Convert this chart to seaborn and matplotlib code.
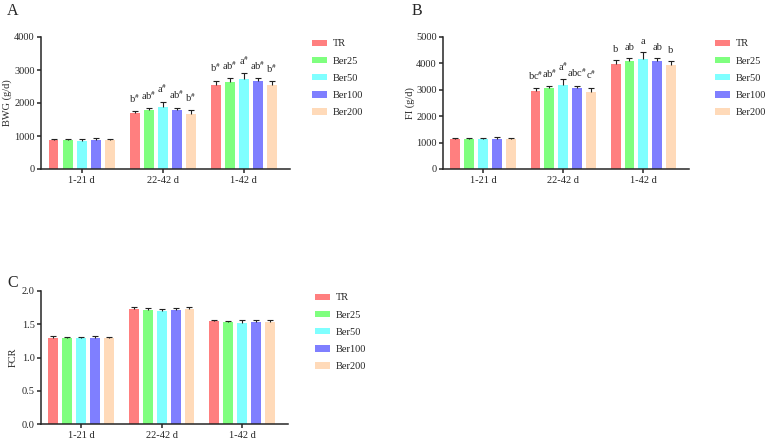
import numpy as np
import pandas as pd
import matplotlib.pyplot as plt
import seaborn as sns
from matplotlib.patches import Patch

# ---------------------------------------------------------------
# data
# ---------------------------------------------------------------
periods = ["1-21 d", "22-42 d", "1-42 d"]
groups = ["TR", "Ber25", "Ber50", "Ber100", "Ber200"]
colors = ["#FF7F7F", "#7FFF7F", "#7FFFFF", "#7F7FFF", "#FFDAB9"]

# rows = periods, columns = groups
bwg_mean = [[865, 865, 860, 875, 865],
            [1690, 1780, 1870, 1780, 1665],
            [2555, 2650, 2735, 2655, 2545]]
bwg_sd = [[50, 45, 40, 50, 45],
          [75, 60, 170, 80, 125],
          [120, 95, 170, 95, 120]]
bwg_letters = [["", "", "", "", ""],
               ["b$^{\\#}$", "ab$^{\\#}$", "a$^{\\#}$", "ab$^{\\#}$", "b$^{\\#}$"],
               ["b$^{\\#}$", "ab$^{\\#}$", "a$^{\\#}$", "ab$^{\\#}$", "b$^{\\#}$"]]

fi_mean = [[1140, 1140, 1130, 1150, 1140],
           [2950, 3085, 3200, 3060, 2910],
           [3985, 4100, 4165, 4090, 3950]]
fi_sd = [[40, 40, 40, 45, 30],
         [110, 60, 210, 100, 175],
         [150, 100, 260, 100, 130]]
fi_letters = [["", "", "", "", ""],
              ["bc$^{\\#}$", "ab$^{\\#}$", "a$^{\\#}$", "abc$^{\\#}$", "c$^{\\#}$"],
              ["b", "ab", "a", "ab", "b"]]

fcr_mean = [[1.29, 1.29, 1.29, 1.30, 1.29],
            [1.73, 1.72, 1.70, 1.71, 1.73],
            [1.55, 1.54, 1.515, 1.53, 1.54]]
fcr_sd = [[0.03, 0.02, 0.025, 0.025, 0.02],
          [0.025, 0.03, 0.035, 0.03, 0.025],
          [0.01, 0.015, 0.05, 0.035, 0.02]]

# ---------------------------------------------------------------
# style
# ---------------------------------------------------------------
sns.set_style("ticks")
plt.rcParams["font.family"] = ["Liberation Serif", "DejaVu Serif"]
plt.rcParams["mathtext.fontset"] = "stix"
plt.rcParams["axes.linewidth"] = 1.1
plt.rcParams["xtick.major.width"] = 1.1
plt.rcParams["ytick.major.width"] = 1.1
plt.rcParams["xtick.major.size"] = 3
plt.rcParams["ytick.major.size"] = 3


def long_df(mean):
    rows = []
    for i, p in enumerate(periods):
        for j, g in enumerate(groups):
            rows.append({"period": p, "group": g, "value": mean[i][j]})
    return pd.DataFrame(rows)


def draw_panel(ax, mean, sd, letters, ylabel, yticks, fmt, label_x):
    df = long_df(mean)
    sns.barplot(data=df, x="period", y="value", hue="group",
                order=periods, hue_order=groups, palette=colors,
                saturation=1, width=0.864, gap=0.29, errorbar=None,
                linewidth=0, legend=False, ax=ax)
    # upper-only error bars + significance letters
    bar_conts = list(ax.containers)
    for j, cont in enumerate(bar_conts):
        for i, bar in enumerate(cont):
            x = bar.get_x() + bar.get_width() / 2
            top = bar.get_height()
            eb = ax.errorbar(x, top, yerr=[[0], [sd[i][j]]], fmt="none",
                             ecolor="#222222", elinewidth=0.8, capsize=2.2,
                             capthick=0.8, zorder=3)
            eb[1][0].set_visible(False)  # hide the lower cap
            if letters is not None and letters[i][j]:
                ax.annotate(letters[i][j], (x, top + sd[i][j]),
                            xytext=(0, 4.5), textcoords="offset points",
                            ha="center", va="bottom", fontsize=7.5)
    ax.set_xlim(-0.5, 2.57)
    ax.set_ylim(yticks[0], yticks[-1])
    ax.set_yticks(yticks)
    ax.set_yticklabels([fmt.format(t) for t in yticks], fontsize=7.5)
    ax.tick_params(axis="x", labelsize=7.5, pad=2)
    ax.tick_params(axis="y", pad=1.5)
    ax.set_xlabel("")
    ax.set_ylabel(ylabel, fontsize=7.5)
    ax.yaxis.set_label_coords(label_x, 0.5)
    sns.despine(ax=ax)


fig = plt.figure(figsize=(7.67, 4.43), dpi=100)

axA = fig.add_axes([41 / 767, 1 - 169 / 443, 249 / 767, 132 / 443])
draw_panel(axA, bwg_mean, bwg_sd, bwg_letters, "BWG (g/d)",
           [0, 1000, 2000, 3000, 4000], "{:.0f}", -0.115)

axB = fig.add_axes([443 / 767, 1 - 169 / 443, 246 / 767, 132 / 443])
draw_panel(axB, fi_mean, fi_sd, fi_letters, "FI (g/d)",
           [0, 1000, 2000, 3000, 4000, 5000], "{:.0f}", -0.115)

axC = fig.add_axes([41 / 767, 1 - 424 / 443, 247 / 767, 133 / 443])
draw_panel(axC, fcr_mean, fcr_sd, None, "FCR",
           [0.0, 0.5, 1.0, 1.5, 2.0], "{:.1f}", -0.095)

# legends
handles = [Patch(facecolor=c, edgecolor="none") for c in colors]
for lx, ly in [(312, 39.5), (715, 39.5), (315, 293.5)]:
    fig.legend(handles, groups, loc="upper left",
               bbox_to_anchor=(lx / 767, 1 - ly / 443),
               frameon=False, fontsize=7.5, handlelength=1.4,
               handleheight=0.6, handletextpad=0.6, labelspacing=0.78,
               borderpad=0, borderaxespad=0)

# panel letters
fig.text(7 / 767, 1 - 11 / 443, "A", fontsize=11.5, va="center", ha="left")
fig.text(412 / 767, 1 - 11 / 443, "B", fontsize=11.5, va="center", ha="left")
fig.text(7 / 767, 1 - 283 / 443, "C", fontsize=11.5, va="center", ha="left")

fig.savefig("out.png", dpi=100)
